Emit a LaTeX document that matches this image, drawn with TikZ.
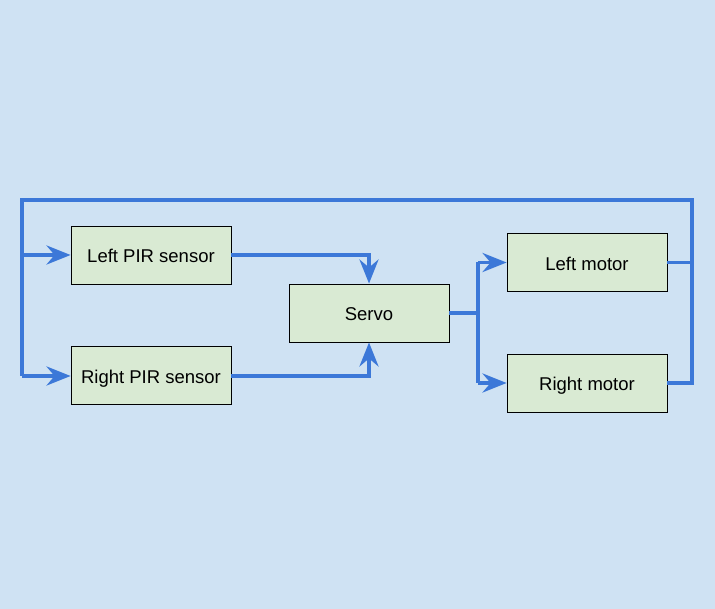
\documentclass[tikz,border=0pt]{standalone}
\usepackage{fontspec}
\setmainfont{Liberation Sans}
\usetikzlibrary{arrows.meta}
\definecolor{bgc}{HTML}{CFE2F3}
\definecolor{boxc}{HTML}{D9EAD3}
\definecolor{linec}{HTML}{3C78D8}
\begin{document}
\begin{tikzpicture}[x=1pt,y=-1pt,
  blk/.style={draw=black,fill=boxc,line width=0.9pt,minimum width=160pt,minimum height=58pt,inner sep=0pt,text height=20pt,text depth=4.6pt,font=\fontsize{18.5}{22}\selectfont},
  wire/.style={draw=linec,line width=3.6pt,line join=miter},
  arr/.style={wire,-{Stealth[length=24pt,width=19pt,inset=8pt]}}]
\fill[bgc] (0,0) rectangle (715,609);
\useasboundingbox (0,0) rectangle (715,609);
\node[blk] (lpir) at (151,255) {Left PIR sensor};
\node[blk] (rpir) at (151,375.5) {Right PIR sensor};
\node[blk] (servo) at (369,313) {Servo};
\node[blk] (lmot) at (587,262.5) {Left motor};
\node[blk] (rmot) at (587,383) {Right motor};
\coordinate (tr) at (692,200);
\coordinate (tl) at (22,200);
\coordinate (bl) at (22,376);
\coordinate (split) at (478,313);
% feedback loop
\draw[wire] (lmot.east) -- (lmot.east -| tr) -- (tr) -- (tl) -- (bl);
\draw[wire] (rmot.east) -- (rmot.east -| tr) -- (lmot.east -| tr);
\draw[arr] (lpir.west -| tl) -- (lpir.west);
\draw[arr] (bl) -- (rpir.west |- bl);
% sensors to servo
\draw[arr] (lpir.east) -- (lpir.east -| servo.north) -- (servo.north);
\draw[arr] (rpir.east |- bl) -- (bl -| servo.south) -- (servo.south);
% servo to motors
\draw[wire] (servo.east) -- (split);
\draw[wire] (split |- lmot.west) -- (split |- rmot.west);
\draw[arr] (split |- lmot.west) -- (lmot.west);
\draw[arr] (split |- rmot.west) -- (rmot.west);
\end{tikzpicture}
\end{document}
